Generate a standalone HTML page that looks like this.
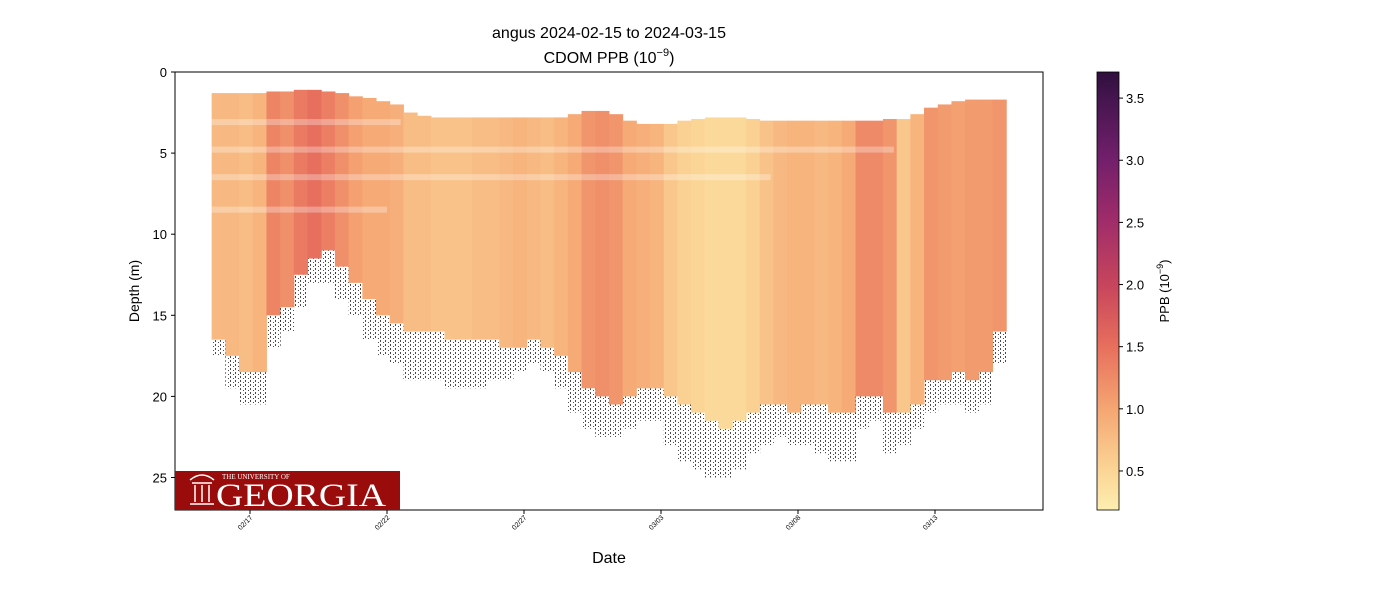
<!DOCTYPE html>
<html><head><meta charset="utf-8"><style>
body{margin:0;background:#fff;}
svg text{font-family:"Liberation Sans",sans-serif;}
</style></head><body>
<svg id="chart" width="1400" height="600" xmlns="http://www.w3.org/2000/svg">
<defs>
<linearGradient id="cbar" x1="0" y1="1" x2="0" y2="0">
<stop offset="0" stop-color="#fdeeb0"/><stop offset="0.09" stop-color="#fbd596"/><stop offset="0.23" stop-color="#f5a673"/><stop offset="0.37" stop-color="#e8705d"/><stop offset="0.51" stop-color="#c8465c"/><stop offset="0.66" stop-color="#a02c6a"/><stop offset="0.80" stop-color="#731f6b"/><stop offset="0.94" stop-color="#45154f"/><stop offset="1" stop-color="#2f0f3e"/>
</linearGradient>
<pattern id="speck" width="5" height="4" patternUnits="userSpaceOnUse"><rect x="0" y="0" width="1" height="2" fill="#000"/><rect x="3" y="2" width="1" height="1" fill="#000"/></pattern>
<clipPath id="plotclip"><rect x="175" y="72" width="868" height="438"/></clipPath>
</defs>
<text x="609" y="38" font-size="16" text-anchor="middle">angus 2024-02-15 to 2024-03-15</text>
<text x="609" y="63" font-size="16" text-anchor="middle">CDOM PPB (10<tspan font-size="11" dy="-7">−9</tspan><tspan dy="7">)</tspan></text>
<g id="marks" clip-path="url(#plotclip)"></g>
<rect x="175" y="72" width="868" height="438" fill="none" stroke="#000" stroke-width="1"/>
<g id="yaxis"></g><g id="xaxis"></g>
<text transform="translate(139,291) rotate(-90)" font-size="14" text-anchor="middle">Depth (m)</text>
<text x="609" y="563" font-size="16" text-anchor="middle">Date</text>
<g>
<rect x="175" y="471" width="225" height="39" fill="#9a0c0c"/>
<g fill="none" stroke="#fff" stroke-width="1.5"><path d="M190 480 Q202 470 214 480"/><line x1="192" y1="483" x2="212" y2="483"/><line x1="195" y1="485" x2="195" y2="502"/><line x1="202" y1="485" x2="202" y2="502"/><line x1="209" y1="485" x2="209" y2="502"/><line x1="190" y1="504" x2="214" y2="504"/></g>
<text x="222" y="479" font-size="7" fill="#fff" style="font-family:'Liberation Serif',serif">THE UNIVERSITY OF</text>
<text x="216" y="506" font-size="33" fill="#fff" textLength="170" lengthAdjust="spacingAndGlyphs" style="font-family:'Liberation Serif',serif">GEORGIA</text>
</g>
<rect x="1097" y="72" width="22" height="438" fill="url(#cbar)" stroke="#000" stroke-width="0.8"/>
<g id="cbaxis"></g>
<text transform="translate(1169,291) rotate(-90)" font-size="13" text-anchor="middle">PPB (10<tspan font-size="9" dy="-6">−9</tspan><tspan dy="6">)</tspan></text>
</svg>
<script>
const days=[15.6,16.1,16.6,17.1,17.6,18.1,18.6,19.1,19.6,20.1,20.6,21.1,21.6,22.1,22.6,23.1,23.6,24.1,24.6,25.1,25.6,26.1,26.6,27.1,27.6,28.1,28.6,29.1,29.6,30.1,30.6,31.1,31.6,32.1,32.6,33.1,33.6,34.1,34.6,35.1,35.6,36.1,36.6,37.1,37.6,38.1,38.6,39.1,39.6,40.1,40.6,41.1,41.6,42.1,42.6,43.1,43.6,44.1];
const values=[0.8,0.8,0.75,0.85,1.3,1.2,1.4,1.5,1.35,1.2,1.05,0.95,0.95,0.9,0.75,0.75,0.7,0.7,0.7,0.75,0.75,0.8,0.85,0.8,0.75,0.85,0.95,1.15,1.2,1.15,0.95,0.9,0.85,0.65,0.55,0.5,0.45,0.45,0.45,0.55,0.7,0.8,0.85,0.85,0.8,0.85,0.95,1.25,1.25,1.15,0.65,0.85,1.15,1.1,1.05,1.1,1.1,1.15];
const bottoms=[16.5,17.5,18.5,18.5,15,14.5,12.5,11.5,11,12,13,14,15,15.5,16,16,16,16.5,16.5,16.5,16.5,17,17,16.5,17,17.5,18.5,19.5,20,20.5,20,19.5,19.5,20,20.5,21,21.5,22,21.5,21,20.5,20.5,21,20.5,20.5,21,21,20,20,21,21,20.5,19,19,18.5,19,18.5,16];
const blacks=[17.5,19.5,20.5,20.5,17,16,14.5,13,13,14,15,16.5,17.5,18,19,19,19,19.5,19.5,19.5,19,19,18.5,18,18.5,19.5,21,22,22.5,22.5,22,21.5,21.5,23,24,24.5,25,25,24.5,23.5,23,22.5,23,23,23.5,24,24,22,21.5,23.5,23,22,21,20.5,20.5,21,20.5,18];
const tops=[1.3,1.3,1.3,1.3,1.2,1.2,1.1,1.1,1.2,1.3,1.5,1.6,1.8,2.0,2.5,2.7,2.8,2.8,2.8,2.8,2.8,2.8,2.8,2.8,2.8,2.8,2.6,2.4,2.4,2.6,3.0,3.2,3.2,3.2,3.0,2.9,2.8,2.8,2.8,2.9,3.0,3.0,3.0,3.0,3.0,3.0,3.0,3.0,3.0,2.9,2.9,2.6,2.2,2.0,1.8,1.7,1.7,1.7];
const gapDepths=[2.9,4.6,6.3,8.3];
const gapEndDay=[22.5,40.5,36,22];
const yTicks=[0,5,10,15,20,25];
const xTickDays=[17,22,27,32,37,42];
const xTickLabels=["02/17","02/22","02/27","03/03","03/08","03/13"];
const cbTicks=[0.5,1.0,1.5,2.0,2.5,3.0,3.5];
const vmin=0.186,vmax=3.71,colW=0.5;
const X=d=>250+(d-17)*27.4;
const Y=m=>72+m*16.22;
const CB=v=>510-(v-vmin)/(vmax-vmin)*438;
const stops=[[0,[253,238,176]],[0.09,[251,213,150]],[0.23,[245,166,115]],[0.37,[232,112,93]],[0.51,[200,70,92]],[0.66,[160,44,106]],[0.80,[115,31,107]],[0.94,[69,21,79]],[1,[47,15,62]]];
function color(v){let t=Math.min(1,Math.max(0,(v-vmin)/(vmax-vmin)));
for(let i=1;i<stops.length;i++){if(t<=stops[i][0]){const a=stops[i-1],b=stops[i],f=(t-a[0])/(b[0]-a[0]);
return 'rgb('+a[1].map((c,k)=>Math.round(c+(b[1][k]-c)*f)).join(',')+')';}}return 'rgb(47,15,62)';}
const NS='http://www.w3.org/2000/svg';
function mk(tag,attrs,parent){const e=document.createElementNS(NS,tag);for(const k in attrs)e.setAttribute(k,attrs[k]);parent.appendChild(e);return e;}
const marks=document.getElementById('marks');
days.forEach((d,i)=>{
 const x0=X(d),w=X(d+colW)-x0+0.5;
 const sp=mk('rect',{x:x0,y:Y(bottoms[i]),width:w,height:Math.max(0,Y(blacks[i])-Y(bottoms[i])),fill:'url(#speck)',opacity:0.7},marks);
 
 
 const r=mk('rect',{x:x0,y:Y(tops[i]),width:w,height:Y(bottoms[i])-Y(tops[i]),fill:color(values[i])},marks);
 
 
});
gapDepths.forEach((g,i)=>{
 const r=mk('rect',{x:X(days[0]),y:Y(g),width:X(gapEndDay[i])-X(days[0]),height:6,fill:'#fff',opacity:0.3},marks);
 
 
});
const ya=document.getElementById('yaxis');
yTicks.forEach(t=>{
 mk('line',{x1:171,x2:175,y1:Y(t),y2:Y(t),stroke:'#000'},ya);
 const tx=mk('text',{x:167,y:Y(t)+5,'font-size':13,'text-anchor':'end'},ya);tx.textContent=t;
 
 
});
const xa=document.getElementById('xaxis');
xTickDays.forEach((d,i)=>{
 mk('line',{x1:X(d),x2:X(d),y1:510,y2:514,stroke:'#000'},xa);
 const tx=mk('text',{transform:'translate('+(X(d)+3)+',518) rotate(-45)','font-size':7,'text-anchor':'end'},xa);tx.textContent=xTickLabels[i];
 
 
});
const cb=document.getElementById('cbaxis');
cbTicks.forEach(v=>{
 mk('line',{x1:1119,x2:1123,y1:CB(v),y2:CB(v),stroke:'#000'},cb);
 const tx=mk('text',{x:1126,y:CB(v)+5,'font-size':13},cb);tx.textContent=v.toFixed(1);
 
 
});
</script>
</body></html>
